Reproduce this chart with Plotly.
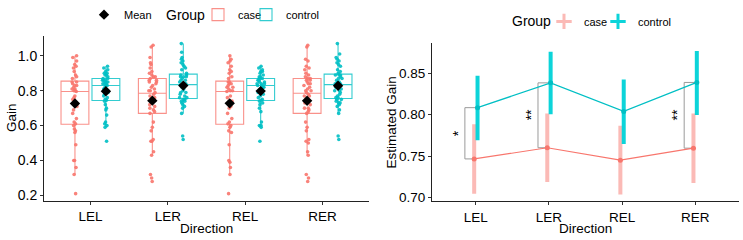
import numpy as np
import plotly.graph_objects as go

# ---------------- data ----------------
directions = ["LEL", "LER", "REL", "RER"]

case_lel = [1.00, 0.99, 0.97, 0.95, 0.94, 0.93, 0.91, 0.89, 0.88, 0.87,
            0.85, 0.85, 0.84, 0.83, 0.83, 0.82, 0.81, 0.81, 0.80, 0.80,
            0.795, 0.77, 0.76, 0.75, 0.73, 0.71, 0.69, 0.67, 0.64, 0.62,
            0.61, 0.60, 0.58, 0.57, 0.56, 0.49, 0.40, 0.40, 0.36, 0.32, 0.21]
case_ler = [1.06, 1.05, 0.99, 0.96, 0.95, 0.93, 0.91, 0.90, 0.89, 0.88, 0.88, 0.87,
            0.86, 0.86, 0.85, 0.85, 0.84, 0.83, 0.82, 0.81, 0.80, 0.80, 0.79,
            0.78, 0.77, 0.76, 0.75, 0.74, 0.73, 0.72, 0.71, 0.70, 0.69, 0.68, 0.67,
            0.62, 0.59, 0.57, 0.52, 0.51, 0.51, 0.45, 0.43, 0.32, 0.30, 0.28]
case_rel = [1.00, 0.98, 0.97, 0.96, 0.94, 0.92, 0.91, 0.90, 0.88, 0.87,
            0.85, 0.85, 0.84, 0.84, 0.83, 0.82, 0.82, 0.81, 0.80, 0.80,
            0.795, 0.77, 0.76, 0.74, 0.73, 0.71, 0.70, 0.67, 0.64, 0.62,
            0.61, 0.60, 0.59, 0.57, 0.56, 0.49, 0.40, 0.39, 0.36, 0.32, 0.21]
case_rer = [1.06, 1.05, 0.98, 0.97, 0.94, 0.93, 0.92, 0.90, 0.89, 0.88, 0.87, 0.87,
            0.86, 0.86, 0.85, 0.84, 0.84, 0.83, 0.82, 0.81, 0.80, 0.80, 0.79,
            0.78, 0.77, 0.77, 0.75, 0.74, 0.73, 0.72, 0.70, 0.70, 0.69, 0.68, 0.67,
            0.62, 0.59, 0.57, 0.52, 0.51, 0.50, 0.45, 0.43, 0.32, 0.30, 0.28]

control_lel = [0.94, 0.93, 0.92, 0.91, 0.90, 0.90, 0.89, 0.89, 0.88, 0.87,
               0.87, 0.86, 0.86, 0.86, 0.85, 0.85, 0.85, 0.84, 0.84, 0.84,
               0.83, 0.83, 0.82, 0.81, 0.80, 0.79, 0.78, 0.77, 0.76, 0.75,
               0.745, 0.74, 0.72, 0.70, 0.69, 0.66, 0.62, 0.61, 0.60, 0.59, 0.51]
control_ler = [1.07, 1.02, 0.99, 0.98, 0.97, 0.96, 0.95, 0.94, 0.93, 0.92, 0.90,
               0.89, 0.89, 0.88, 0.88, 0.88, 0.87, 0.86, 0.86, 0.85, 0.84, 0.84,
               0.83, 0.83, 0.82, 0.81, 0.80, 0.79, 0.79, 0.78, 0.77, 0.76, 0.76,
               0.75, 0.75, 0.74, 0.74, 0.73, 0.72, 0.71, 0.70, 0.67, 0.54, 0.52]
control_rel = [0.94, 0.93, 0.92, 0.91, 0.91, 0.90, 0.89, 0.88, 0.88, 0.87,
               0.87, 0.87, 0.86, 0.86, 0.85, 0.85, 0.84, 0.84, 0.84, 0.83,
               0.83, 0.82, 0.82, 0.81, 0.80, 0.79, 0.78, 0.77, 0.76, 0.75,
               0.745, 0.74, 0.73, 0.72, 0.70, 0.68, 0.62, 0.60, 0.60, 0.59, 0.51]
control_rer = [1.07, 1.01, 0.99, 0.98, 0.97, 0.96, 0.95, 0.94, 0.92, 0.91, 0.90,
               0.89, 0.89, 0.89, 0.88, 0.87, 0.87, 0.86, 0.85, 0.85, 0.84, 0.84,
               0.83, 0.83, 0.82, 0.81, 0.80, 0.80, 0.79, 0.78, 0.77, 0.76, 0.76,
               0.75, 0.75, 0.74, 0.73, 0.73, 0.72, 0.71, 0.69, 0.67, 0.54, 0.52]

# model estimates (right panel)
est_case = [0.7465, 0.7600, 0.7450, 0.7595]
lo_case = [0.7045, 0.7185, 0.7035, 0.7175]
hi_case = [0.7885, 0.8015, 0.7865, 0.8015]
est_control = [0.8085, 0.8385, 0.8040, 0.8390]
lo_control = [0.7690, 0.8005, 0.7645, 0.7995]
hi_control = [0.8470, 0.8760, 0.8425, 0.8770]
sig_labels = ["*", "**", "", "**"]

# ---------------- styles ----------------
CASE = "#F8766D"
CTRL = "#00BFC4"
CTRL_BAR = "#0CD4D9"
CASE_BAR = "rgba(248,118,109,0.5)"
FONT = "Liberation Sans, Arial, Helvetica, sans-serif"
BOX_OFF = 0.2
DODGE = 0.023

case_lists = [case_lel, case_ler, case_rel, case_rer]
control_lists = [control_lel, control_ler, control_rel, control_rer]
pos = np.arange(1, len(directions) + 1)

fig = go.Figure()


def add_boxes(lists, name, color, line_rgba, offset, legend):
    xs, ys = [], []
    for p, vals in zip(pos, lists):
        xs += [p + offset] * len(vals)
        ys += list(vals)
    fig.add_trace(go.Box(
        x=xs, y=ys, name=name, width=0.36, boxpoints="all", jitter=0.3,
        pointpos=0, whiskerwidth=0,
        marker=dict(color=color, size=3.6, opacity=0.9),
        line=dict(color=line_rgba, width=1.1),
        fillcolor="rgba(255,255,255,0)",
        xaxis="x", yaxis="y", legend=legend))


add_boxes(case_lists, "case", CASE, "rgba(248,118,109,0.8)", -BOX_OFF, "legend2")
add_boxes(control_lists, "control", CTRL, "rgba(0,191,196,0.8)", BOX_OFF, "legend3")

# means as black diamonds
mean_x, mean_y = [], []
for p, c, k in zip(pos, case_lists, control_lists):
    mean_x += [p - BOX_OFF, p + BOX_OFF]
    mean_y += [float(np.mean(c)), float(np.mean(k))]
fig.add_trace(go.Scatter(
    x=mean_x, y=mean_y, mode="markers", name="Mean",
    marker=dict(symbol="diamond", color="black", size=8),
    xaxis="x", yaxis="y", legend="legend"))

# ---------------- right panel ----------------
est_case_a = np.array(est_case)
est_ctrl_a = np.array(est_control)

# significance brackets
bx, by = [], []
for p, ec, et, s in zip(pos, est_case, est_control, sig_labels):
    if s:
        bx += [p + DODGE, p - 0.15, p - 0.15, p - DODGE, None]
        by += [et, et, ec, ec, None]
fig.add_trace(go.Scatter(
    x=bx, y=by, mode="lines", line=dict(color="#9a9a9a", width=1),
    showlegend=False, hoverinfo="skip", xaxis="x2", yaxis="y2"))

fig.add_trace(go.Scatter(
    x=pos - DODGE, y=est_case, mode="lines+markers", name="case",
    line=dict(color=CASE, width=1.1), marker=dict(color=CASE, size=5),
    error_y=dict(type="data", symmetric=False,
                 array=np.array(hi_case) - est_case_a,
                 arrayminus=est_case_a - np.array(lo_case),
                 thickness=4, width=0, color=CASE_BAR),
    showlegend=False, xaxis="x2", yaxis="y2"))
fig.add_trace(go.Scatter(
    x=pos + DODGE, y=est_control, mode="lines+markers", name="control",
    line=dict(color=CTRL, width=1.3), marker=dict(color=CTRL, size=5),
    error_y=dict(type="data", symmetric=False,
                 array=np.array(hi_control) - est_ctrl_a,
                 arrayminus=est_ctrl_a - np.array(lo_control),
                 thickness=4, width=0, color=CTRL_BAR),
    showlegend=False, xaxis="x2", yaxis="y2"))

# legend entries for right panel
fig.add_trace(go.Scatter(
    x=[None], y=[None], mode="markers", name="case",
    marker=dict(symbol="cross-thin-open", size=11, color=CASE_BAR,
                line=dict(color=CASE_BAR, width=3)),
    xaxis="x2", yaxis="y2", legend="legend4"))
fig.add_trace(go.Scatter(
    x=[None], y=[None], mode="markers", name="control",
    marker=dict(symbol="cross-thin-open", size=11, color=CTRL_BAR,
                line=dict(color=CTRL_BAR, width=3)),
    xaxis="x2", yaxis="y2", legend="legend5"))

annotations = []
for p, ec, et, s in zip(pos, est_case, est_control, sig_labels):
    if s:
        annotations.append(dict(
            x=p - 0.245, y=(ec + et) / 2, xref="x2", yref="y2", text=s,
            showarrow=False, textangle=-90, xanchor="center", yanchor="middle",
            font=dict(size=14, color="black", family=FONT)))

# axis titles and legend titles
title_font = dict(size=13.5, color="black", family=FONT)
annotations += [
    dict(x=206.5 / 743, y=1 - 232 / 240, xref="paper", yref="paper", text="Direction",
         showarrow=False, xanchor="center", yanchor="middle", font=title_font),
    dict(x=585.5 / 743, y=1 - 232 / 240, xref="paper", yref="paper", text="Direction",
         showarrow=False, xanchor="center", yanchor="middle", font=title_font),
    dict(x=11 / 743, y=1 - 118 / 240, xref="paper", yref="paper", text="Gain",
         textangle=-90, showarrow=False, xanchor="center", yanchor="middle",
         font=title_font),
    dict(x=391 / 743, y=1 - 122.5 / 240, xref="paper", yref="paper",
         text="Estimated Gain", textangle=-90, showarrow=False,
         xanchor="center", yanchor="middle", font=title_font),
    dict(x=186 / 743, y=1 - 11 / 240, xref="paper", yref="paper", text="Group",
         showarrow=False, xanchor="center", yanchor="middle",
         font=dict(size=14, color="black", family=FONT)),
    dict(x=531 / 743, y=1 - 18 / 240, xref="paper", yref="paper", text="Group",
         showarrow=False, xanchor="center", yanchor="middle",
         font=dict(size=14, color="black", family=FONT)),
]


def axis_style(size):
    return dict(showgrid=False, zeroline=False, showline=True, linecolor="#222",
                linewidth=1, ticks="outside", ticklen=3, tickcolor="#333",
                tickfont=dict(size=size, color="black", family=FONT))


def legend_at(x_px, y_px):
    return dict(orientation="h", x=x_px / 743, y=1 - y_px / 240, xanchor="left",
                yanchor="middle", bgcolor="rgba(0,0,0,0)",
                font=dict(size=11, family=FONT, color="black"))


fig.update_layout(
    width=743, height=240,
    margin=dict(l=0, r=0, t=0, b=0),
    paper_bgcolor="white", plot_bgcolor="white",
    font=dict(family=FONT, color="black"),
    xaxis=dict(domain=[44 / 743, 369 / 743], range=[0.4, 4.6],
               tickvals=list(pos), ticktext=directions, **axis_style(13.5)),
    yaxis=dict(domain=[1 - 203.5 / 240, 1 - 33 / 240], range=[0.1695, 1.114],
               tickvals=[0.2, 0.4, 0.6, 0.8, 1.0], tickformat=".1f",
               **axis_style(14)),
    xaxis2=dict(domain=[432 / 743, 739 / 743], range=[0.4, 4.6],
                tickvals=list(pos), ticktext=directions, anchor="y2",
                **axis_style(13.5)),
    yaxis2=dict(domain=[1 - 204.3 / 240, 1 - 40.7 / 240], range=[0.695, 0.8863],
                tickvals=[0.70, 0.75, 0.80, 0.85], tickformat=".2f", anchor="x2",
                **axis_style(13.5)),
    legend=legend_at(84, 11),
    legend2=legend_at(198, 11),
    legend3=legend_at(246, 11),
    legend4=legend_at(544, 18),
    legend5=legend_at(598, 18),
    annotations=annotations,
    showlegend=True,
)

fig.write_html("out.html")
